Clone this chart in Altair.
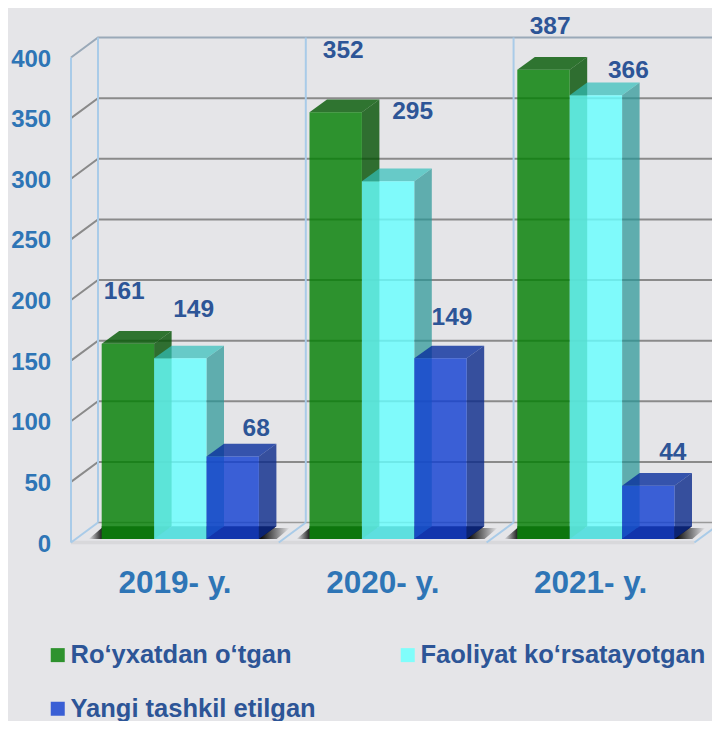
import altair as alt
import pandas as pd

# ---- chart values ----
years = ["2019- y.", "2020- y.", "2021- y."]
series = ["Ro‘yxatdan o‘tgan", "Faoliyat ko‘rsatayotgan", "Yangi tashkil etilgan"]
registered = [161, 352, 387]
active = [149, 295, 366]
new_created = [68, 149, 44]
ticks = [0, 50, 100, 150, 200, 250, 300, 350, 400]

# ---- label nudges from each bar's front-top centre (px right, px up) ----
nudge_x = [[-3.6, 7.5, 6.6], [13.3, 24.5, 32.5], [23.5, 11.5, 24.5]]
nudge_y = [[51.6, 61, 42.6], [48.1, 69.1, 24], [27.4, 40.1, 32.5]]

# ---- styles ----
BG = "#e5e5e8"
VALUE_C = "#2d5597"
AXIS_C = "#2e75b6"
FONT = "Liberation Sans"
legend_colors = ["#2e922e", "#80fdfb", "#3a5fd5"]
front_c = ["#037f03", "#68ffff", "#1240d1"]
side_c = ["#015001", "#279696", "#0a2989"]
top_c = ["#015701", "#32bfbb", "#092e9c"]
bottom_c = ["#3d4f3d", "#345757", "#120a14"]
side_op = [0.8, 0.7, 0.8]

# ---- scale set-up: x in "year slots", y in chart units ----
W, H = 704, 713
PX_X = 207.8          # px per year slot
PX_Y = 1.2125         # px per unit
x_dom = [(8 - 101.7) / PX_X, (8 + W - 101.7) / PX_X]
y_dom = [(542.5 - 8 - H) / PX_Y, (542.5 - 8) / PX_Y]
xs = alt.Scale(domain=x_dom, nice=False, zero=False)
ys = alt.Scale(domain=y_dom, nice=False, zero=False)

BAR_W = 52.4 / PX_X
DX, DY = 17.5 / PX_X, 12.7 / PX_Y       # bar depth
WDX, WDY = 27 / PX_X, 20 / PX_Y         # wall depth
BASE = 3.5 / PX_Y
WALL_X = -30.7 / PX_X
SHADOW = 9

all_vals = [registered, active, new_created]

bottom, side, top, front, labels = [], [], [], [], []
for j, vals in enumerate(all_vals):
    for i, v in enumerate(vals):
        x0 = i + j * BAR_W
        x1 = x0 + BAR_W
        t = BASE + v
        s = series[j]
        front.append(dict(j=j, s=s, g=i, x=x0, x2=x1, y=BASE, y2=t))
        if j == 0:
            floor_pts = [(x0, BASE, BASE + DY), (x1, BASE, BASE + DY),
                         (x1 + DX, BASE + DY, BASE + DY)]
        else:
            floor_pts = [(x0, BASE, BASE), (x0 + DX, BASE, BASE + DY),
                         (x1, BASE, BASE + DY), (x1 + DX, BASE + DY, BASE + DY)]
        for px, a, b in floor_pts:
            bottom.append(dict(j=j, g=i, x=px, y=a, y2=b))
        for px, a, b in [(x1, BASE, t), (x1 + DX, BASE + DY, t + DY)]:
            side.append(dict(j=j, g=i, x=px, y=a, y2=b))
        for px, a, b in [(x0, t, t), (x0 + DX, t, t + DY),
                         (x1, t, t + DY), (x1 + DX, t + DY, t + DY)]:
            top.append(dict(j=j, g=i, x=px, y=a, y2=b))
        labels.append(dict(x=(x0 + x1) / 2 + nudge_x[j][i] / PX_X,
                           y=t + nudge_y[j][i] / PX_Y, v=str(v)))

bottom, side, top, front = map(pd.DataFrame, (bottom, side, top, front))
labels = pd.DataFrame(labels)
xq = alt.X("x:Q", scale=xs, axis=None)
yq = alt.Y("y:Q", scale=ys, axis=None, stack=None)

# walls
grid = []
for v in ticks[1:]:
    for px, py in [(WALL_X, v), (WALL_X + WDX, v + WDY), (x_dom[1], v + WDY)]:
        grid.append(dict(v=v, x=px, y=py))
grid = pd.DataFrame(grid)

y_axis_layer = alt.Chart(pd.DataFrame({"x": [WALL_X], "y": [0]})).mark_point(opacity=0).encode(
    x=xq,
    y=alt.Y("y:Q", scale=ys, title=None, axis=alt.Axis(
        values=ticks, orient="left", offset=-42.7, domain=False, ticks=False, grid=False,
        labelPadding=0, labelFont=FONT, labelFontSize=24, labelFontWeight="bold",
        labelColor=AXIS_C, labelBaseline="middle", labelOverlap=False, labelOffset=1.5)),
)

grid_l = alt.Chart(grid[grid.v < 400]).mark_line(color="#8a8a8a", strokeWidth=2).encode(
    x=xq, y=yq, detail="v:N", order="x:Q")
grid_t = alt.Chart(grid[grid.v == 400]).mark_line(color="#9aa9b8", strokeWidth=2).encode(
    x=xq, y=yq, order="x:Q")

back_floor = alt.Chart(pd.DataFrame({"x": [WALL_X + WDX], "x2": [x_dom[1]], "y": [WDY]})).mark_rule(
    color="#9a9a9a", strokeWidth=1.5).encode(x=xq, x2="x2:Q", y=yq)

front_floor = alt.Chart(pd.DataFrame({"x": [WALL_X], "x2": [WALL_X + 3], "y": [0]})).mark_rule(
    color="#d8d8db", strokeWidth=3.5).encode(x=xq, x2="x2:Q", y=yq)

wall_df = pd.DataFrame([dict(x=WALL_X + WDX + k, y=WDY, y2=400 + WDY) for k in range(3)]
                       + [dict(x=WALL_X, y=0, y2=400)])
walls = alt.Chart(wall_df).mark_rule(color="#a9cbe8", strokeWidth=2).encode(x=xq, y=yq, y2="y2:Q")

floor_d = []
for k in range(4):
    floor_d += [dict(k=k, x=WALL_X + k, y=0), dict(k=k, x=WALL_X + k + WDX, y=WDY)]
floor_l = alt.Chart(pd.DataFrame(floor_d)).mark_line(color="#a9cbe8", strokeWidth=2).encode(
    x=xq, y=yq, detail="k:N", order="x:Q")

shadow_d = []
for i in range(3):
    for px, a, b in [(-13, BASE, BASE), (0, BASE, BASE + SHADOW),
                     (175, BASE, BASE + SHADOW), (188, BASE + SHADOW, BASE + SHADOW)]:
        shadow_d.append(dict(g=i, x=i + px / PX_X, y=a, y2=b))
shadow = alt.Chart(pd.DataFrame(shadow_d)).mark_area(
    orient="vertical",
    color=alt.Gradient(gradient="linear", x1=0, x2=1, y1=0, y2=0, stops=[
        alt.GradientStop(offset=0, color=BG),
        alt.GradientStop(offset=0.07, color="#111111"),
        alt.GradientStop(offset=0.86, color="#111111"),
        alt.GradientStop(offset=1, color=BG)]),
).encode(x=xq, y=yq, y2="y2:Q", detail="g:N")

layers = [y_axis_layer, grid_l, grid_t, back_floor, front_floor, floor_l, walls, shadow]

for j in range(3):
    bj = bottom[bottom.j == j]
    sj = side[side.j == j]
    tj = top[top.j == j]
    fj = front[front.j == j]
    layers.append(alt.Chart(bj).mark_area(color=bottom_c[j], orient="vertical").encode(
        x=xq, y=yq, y2="y2:Q", detail="g:N"))
    layers.append(alt.Chart(sj).mark_area(color=side_c[j], opacity=side_op[j], orient="vertical").encode(
        x=xq, y=yq, y2="y2:Q", detail="g:N"))
    layers.append(alt.Chart(tj).mark_area(color=top_c[j], opacity=side_op[j], orient="vertical").encode(
        x=xq, y=yq, y2="y2:Q", detail="g:N"))
    layers.append(alt.Chart(fj).mark_bar(color=front_c[j], opacity=0.81).encode(
        x=xq, x2="x2:Q", y=yq, y2="y2:Q"))

legend_order = [series[0], series[2], series[1]]
legend_range = [legend_colors[0], legend_colors[2], legend_colors[1]]
legend_layer = alt.Chart(front).mark_bar(opacity=0).encode(
    x=xq, x2="x2:Q", y=yq, y2="y2:Q",
    color=alt.Color("s:N", scale=alt.Scale(domain=legend_order, range=legend_range), sort=legend_order,
                    legend=alt.Legend(
                        title=None, orient="none", legendX=37, legendY=634, columns=2,
                        symbolType="square", symbolSize=196, symbolStrokeWidth=0, symbolOpacity=1,
                        labelFont=FONT, labelFontSize=25.5, labelFontWeight="bold",
                        labelColor=VALUE_C, labelLimit=500, labelOffset=0,
                        columnPadding=79, rowPadding=27, padding=0)),
)
layers.append(legend_layer)

value_text = alt.Chart(labels).mark_text(
    font=FONT, fontSize=24.5, fontWeight="bold", color=VALUE_C, baseline="middle", align="center"
).encode(x=xq, y=yq, text="v:N")
layers.append(value_text)

cat_df = pd.DataFrame({"x": [i + 73.3 / PX_X for i in range(3)],
                       "y": [-41.5 / PX_Y] * 3, "t": years})
cat_text = alt.Chart(cat_df).mark_text(
    font=FONT, fontSize=31.5, fontWeight="bold", color=AXIS_C, baseline="middle", align="center"
).encode(x=xq, y=yq, text="t:N")
layers.append(cat_text)

chart = alt.layer(*layers).resolve_axis(y="independent").properties(
    width=W, height=H, background=BG, padding=0,
    autosize=alt.AutoSizeParams(type="none", contains="content"),
).configure_view(stroke=None)

chart.save("out.html", embed_options={"renderer": "svg", "actions": False})
